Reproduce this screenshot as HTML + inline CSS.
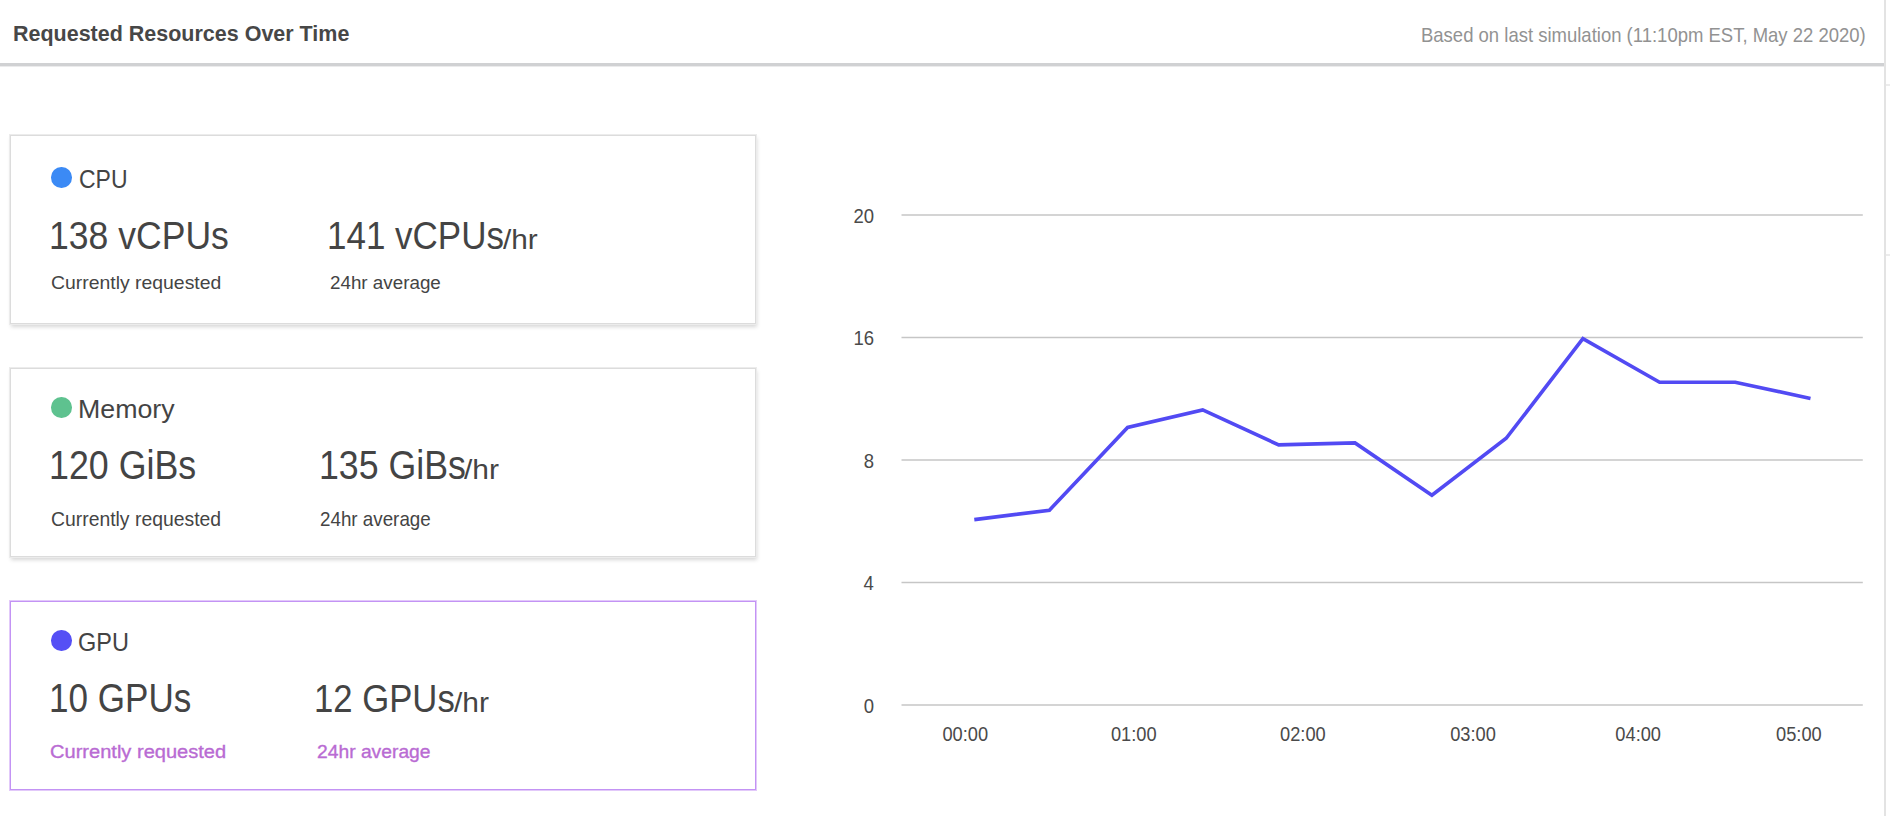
<!DOCTYPE html>
<html lang="en">
<head>
<meta charset="utf-8">
<title>Requested Resources Over Time</title>
<style>
html,body{margin:0;padding:0;background:#fff;}
body{width:1890px;height:816px;position:relative;overflow:hidden;font-family:"Liberation Sans",Arial,sans-serif;color:#444;}
.t{position:absolute;white-space:nowrap;transform-origin:0 0;}
.pb{display:inline-block;width:0;height:0;vertical-align:baseline;}
.hdr-line{position:absolute;left:0;top:63px;width:1884px;height:3px;background:#d0d1d3;box-shadow:0 1px 0 #ebebec;}
.edge{position:absolute;left:1884px;top:0;width:2px;height:816px;background:#e3e3e3;}
.tick{position:absolute;left:1886px;width:4px;height:2px;background:#ececec;}
.card{position:absolute;left:10px;width:746px;height:189px;border:1px solid #dcdcdc;background:#fff;box-sizing:border-box;box-shadow:0 0 0 1px #ececec,1px 3px 4px rgba(0,0,0,.16);}
.card.sel{border-color:#c393f4;box-shadow:0 0 0 1px #e2c9fa;}
.dot{position:absolute;left:51px;width:20.6px;height:20.6px;border-radius:50%;}
.chart{position:absolute;left:820px;top:180px;}
</style>
</head>
<body>
<div class="header">
<div class="hdr-line"></div>
</div>
<div class="edge"></div>
<div class="tick" style="top:84px"></div>
<div class="tick" style="top:254px"></div>
<div class="card" style="top:135px"></div>
<div class="card" style="top:368px"></div>
<div class="card sel" style="top:601px"></div>
<div class="dot" style="top:167.4px;background:#3b8af5"></div>
<div class="dot" style="top:397px;background:#5ec28f"></div>
<div class="dot" style="top:630px;background:#554ff5"></div>
<svg class="chart" width="1060" height="580" viewBox="820 180 1060 580">
<line x1="901.5" y1="215" x2="1862.8" y2="215" stroke="#c6c6c6" stroke-width="1.5"/>
<line x1="901.5" y1="337.5" x2="1862.8" y2="337.5" stroke="#c6c6c6" stroke-width="1.5"/>
<line x1="901.5" y1="460" x2="1862.8" y2="460" stroke="#c6c6c6" stroke-width="1.5"/>
<line x1="901.5" y1="582.5" x2="1862.8" y2="582.5" stroke="#c6c6c6" stroke-width="1.5"/>
<line x1="901.5" y1="705" x2="1862.8" y2="705" stroke="#c6c6c6" stroke-width="1.5"/>
<text transform="translate(853.42,222.71) scale(0.95,1)" x="0" y="0" font-family="Liberation Sans, sans-serif" font-size="19.5" fill="#4a4a4a">20</text>
<text transform="translate(853.51,345.21) scale(0.95,1)" x="0" y="0" font-family="Liberation Sans, sans-serif" font-size="19.5" fill="#4a4a4a">16</text>
<text transform="translate(863.80,467.71) scale(0.95,1)" x="0" y="0" font-family="Liberation Sans, sans-serif" font-size="19.5" fill="#4a4a4a">8</text>
<text transform="translate(863.54,590.21) scale(0.95,1)" x="0" y="0" font-family="Liberation Sans, sans-serif" font-size="19.5" fill="#4a4a4a">4</text>
<text transform="translate(863.72,712.71) scale(0.95,1)" x="0" y="0" font-family="Liberation Sans, sans-serif" font-size="19.5" fill="#4a4a4a">0</text>
<text transform="translate(942.44,740.50) scale(0.937,1)" x="0" y="0" font-family="Liberation Sans, sans-serif" font-size="19.5" fill="#4a4a4a">00:00</text>
<text transform="translate(1110.94,740.50) scale(0.937,1)" x="0" y="0" font-family="Liberation Sans, sans-serif" font-size="19.5" fill="#4a4a4a">01:00</text>
<text transform="translate(1280.04,740.50) scale(0.937,1)" x="0" y="0" font-family="Liberation Sans, sans-serif" font-size="19.5" fill="#4a4a4a">02:00</text>
<text transform="translate(1450.14,740.50) scale(0.937,1)" x="0" y="0" font-family="Liberation Sans, sans-serif" font-size="19.5" fill="#4a4a4a">03:00</text>
<text transform="translate(1615.34,740.50) scale(0.937,1)" x="0" y="0" font-family="Liberation Sans, sans-serif" font-size="19.5" fill="#4a4a4a">04:00</text>
<text transform="translate(1776.04,740.50) scale(0.937,1)" x="0" y="0" font-family="Liberation Sans, sans-serif" font-size="19.5" fill="#4a4a4a">05:00</text>
<path d="M974.3,519.6 L1049.4,510.2 L1127.6,427.5 L1202.7,409.9 L1278.7,444.9 L1355,442.9 L1431.9,495.2 L1506.2,438.3 L1582.9,338.7 L1659.6,382.2 L1735.2,382.2 L1810.5,398.5" fill="none" stroke="#524af3" stroke-width="3.6" stroke-linejoin="miter" stroke-linecap="butt"/>
</svg>
<div class="t" id="title" style="left:13.10px;top:22.66px;font-size:22.22px;line-height:22.22px;transform:scaleX(0.9671);font-weight:700;color:#474747">Requested Resources Over Time</div>
<div class="t" id="sub" style="left:1421.25px;top:25.69px;font-size:19.62px;line-height:19.62px;transform:scaleX(0.9431);color:#929292">Based on last simulation (11:10pm EST, May 22 2020)</div>
<div class="t" id="c_name" style="left:79.27px;top:166.65px;font-size:25.83px;line-height:25.83px;transform:scaleX(0.8892)">CPU</div>
<div class="t" id="c_v1" style="left:48.82px;top:216.67px;font-size:38.82px;line-height:38.82px;transform:scaleX(0.9164)">138 vCPUs</div>
<div class="t" id="c_l1" style="left:51.17px;top:272.58px;font-size:19.05px;line-height:19.05px;transform:scaleX(1.0189)">Currently requested</div>
<div class="t" id="c_v2" style="left:326.50px;top:216.87px;font-size:38.82px;line-height:38.82px;transform:scaleX(0.9016)">141 vCPUs</div>
<div class="t" id="c_u2" style="left:503.00px;top:226.47px;font-size:27.46px;line-height:27.46px;transform:scaleX(1.0841)">/hr</div>
<div class="t" id="c_l2" style="left:329.98px;top:273.82px;font-size:18.76px;line-height:18.76px;transform:scaleX(1.0028)">24hr average</div>
<div class="t" id="m_name" style="left:77.99px;top:396.63px;font-size:25.97px;line-height:25.97px;transform:scaleX(1.0302)">Memory</div>
<div class="t" id="m_v1" style="left:49.39px;top:445.96px;font-size:40.26px;line-height:40.26px;transform:scaleX(0.8889)">120 GiBs</div>
<div class="t" id="m_l1" style="left:50.81px;top:508.73px;font-size:20.63px;line-height:20.63px;transform:scaleX(0.9389)">Currently requested</div>
<div class="t" id="m_v2" style="left:318.64px;top:446.22px;font-size:39.83px;line-height:39.83px;transform:scaleX(0.8960)">135 GiBs</div>
<div class="t" id="m_u2" style="left:463.93px;top:455.67px;font-size:27.46px;line-height:27.46px;transform:scaleX(1.0909)">/hr</div>
<div class="t" id="m_l2" style="left:320.01px;top:509.81px;font-size:19.48px;line-height:19.48px;transform:scaleX(0.9651)">24hr average</div>
<div class="t" id="g_name" style="left:78.28px;top:629.54px;font-size:25.11px;line-height:25.11px;transform:scaleX(0.9344)">GPU</div>
<div class="t" id="g_v1" style="left:49.47px;top:678.62px;font-size:39.83px;line-height:39.83px;transform:scaleX(0.8803)">10 GPUs</div>
<div class="t" id="g_l1" style="left:50.38px;top:742.75px;font-size:18.61px;line-height:18.61px;transform:scaleX(1.0779);-webkit-text-stroke:0.35px currentColor;color:#b96bd3">Currently requested</div>
<div class="t" id="g_v2" style="left:314.31px;top:678.61px;font-size:39.25px;line-height:39.25px;transform:scaleX(0.8837)">12 GPUs</div>
<div class="t" id="g_u2" style="left:454.33px;top:688.67px;font-size:27.46px;line-height:27.46px;transform:scaleX(1.0909)">/hr</div>
<div class="t" id="g_l2" style="left:317.13px;top:743.27px;font-size:18.47px;line-height:18.47px;transform:scaleX(1.0439);-webkit-text-stroke:0.35px currentColor;color:#b96bd3">24hr average</div>
</body>
</html>
